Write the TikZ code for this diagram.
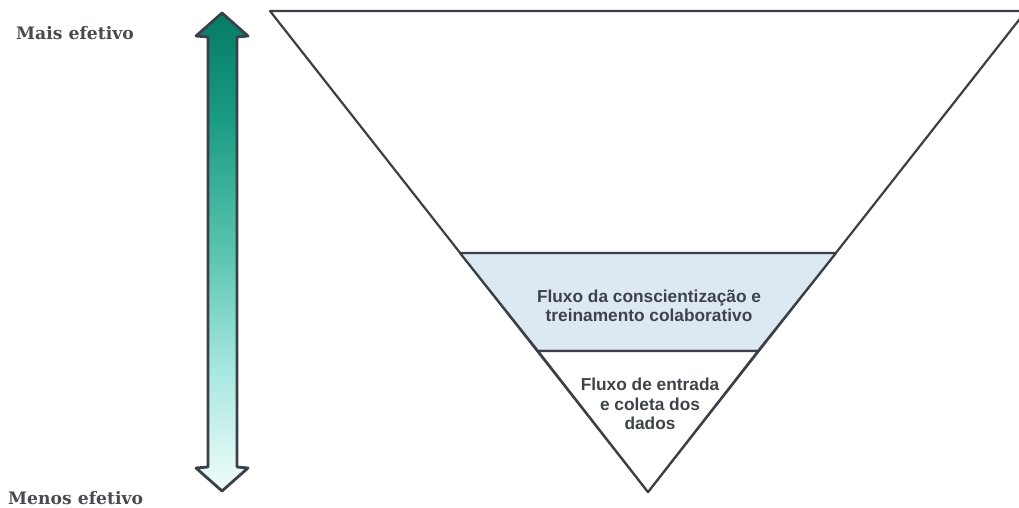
\documentclass[tikz,border=0pt]{standalone}
\usepackage{fontspec}
\setmainfont{DejaVu Serif}
\newfontfamily\boxfont{Liberation Sans}
\usetikzlibrary{calc}
\definecolor{edge}{HTML}{3B4048}
\definecolor{inktext}{HTML}{3E434A}
\definecolor{labeltext}{HTML}{484C52}
\definecolor{bandfill}{HTML}{DCE9F2}
\definecolor{tealdark}{HTML}{077A64}
\definecolor{tealdeep}{HTML}{189A80}
\definecolor{tealmid}{HTML}{5AC4B0}
\definecolor{tealpale}{HTML}{A8E8E0}
\definecolor{teallight}{HTML}{F0FCFA}
% teal ramp, light at the bottom and dark at the top
\pgfdeclareverticalshading{tealramp}{100bp}{
  color(0bp)=(teallight); color(25bp)=(teallight); color(37.5bp)=(tealpale);
  color(50bp)=(tealmid); color(64.5bp)=(tealdeep); color(75bp)=(tealdark);
  color(100bp)=(tealdark)}
\tikzset{
  outline/.style={draw=edge, line width=2.2pt, line join=round},
  flowtext/.style={font=\boxfont\bfseries\fontsize{17.3}{19.2}\selectfont, text=inktext, align=center, inner sep=0pt},
  sidelabel/.style={font=\bfseries\fontsize{17.2}{19}\selectfont, text=labeltext, anchor=west, inner sep=0pt}
}
\begin{document}
\begin{tikzpicture}[x=1pt, y=-1pt]
  \useasboundingbox (0,0) rectangle (1019,508);
  \begin{scope}
    \clip (0,0) rectangle (1019,508);
    % funnel corners
    \coordinate (tl) at (270,11);
    \coordinate (tr) at (1026,11);
    \coordinate (apex) at (648,492);
    \coordinate (bl) at (460,253);
    \coordinate (br) at (836,253);
    \coordinate (cl) at (538,351);
    \coordinate (cr) at (758,351);
    % funnel stages
    \draw[outline, fill=white] (tl) -- (tr) -- (apex) -- cycle;
    \draw[outline, fill=bandfill] (bl) -- (br) -- (cr) -- (cl) -- cycle;
    \draw[outline, fill=white] (cl) -- (cr) -- (apex) -- cycle;
  \end{scope}
  \node[flowtext] (band) at (649,306) {Fluxo da conscientização e\\treinamento colaborativo};
  \node[flowtext] (core) at (650,404) {Fluxo de entrada\\e coleta dos\\dados};
  % effectiveness scale arrow
  \path[outline, shading=tealramp, line width=2.8pt]
    (222,13) -- (248,36) -- (237,37) -- (237,467) -- (248,468) -- (222,491)
    -- (196,468) -- (208,467) -- (208,37) -- (196,36) -- cycle;
  \node[sidelabel] (top) at (16,33) {Mais efetivo};
  \node[sidelabel] (bottom) at (8,498) {Menos efetivo};
\end{tikzpicture}
\end{document}
